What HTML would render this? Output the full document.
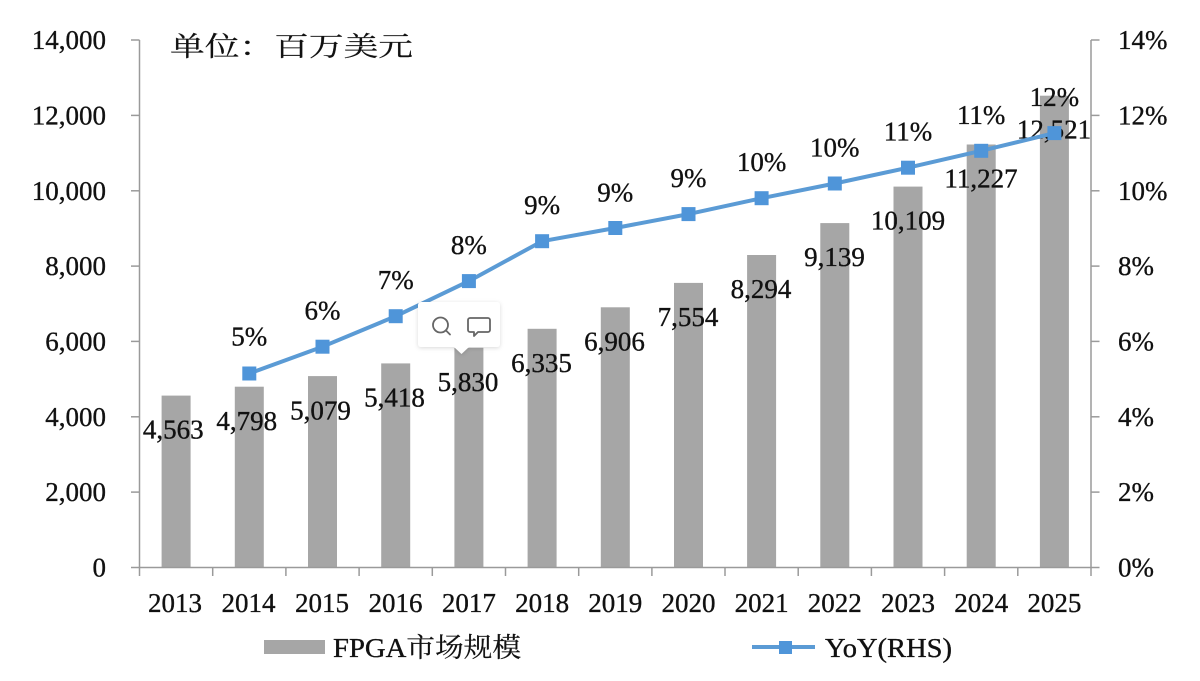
<!DOCTYPE html>
<html>
<head>
<meta charset="utf-8">
<style>
html,body{margin:0;padding:0;background:#fff;}
svg{display:block;}
text{font-family:"Liberation Serif","Noto Serif CJK SC",serif;fill:#111;font-size:27px;stroke:#111;stroke-width:0.35px;}
.cjk{font-family:"Noto Serif CJK SC","Noto Sans CJK SC",serif;stroke-width:0.2px;}
.big{font-size:29px;}
.pct{font-size:28px;}
.yr{font-size:27.5px;}
</style>
</head>
<body>
<svg width="1200" height="681" viewBox="0 0 1200 681" xmlns="http://www.w3.org/2000/svg">
<defs>
<filter id="sh" x="-20%" y="-20%" width="140%" height="150%">
<feDropShadow dx="0" dy="1" stdDeviation="2" flood-color="#000" flood-opacity="0.15"/>
</filter>
</defs>
<rect width="1200" height="681" fill="#fff"/>

<!-- title -->
<text x="170" y="56" class="cjk" font-size="30" textLength="243" lengthAdjust="spacingAndGlyphs">单位：百万美元</text>

<!-- bars -->
<g fill="#a6a6a6">
<rect x="161.6" y="395.6" width="29" height="171.9"/>
<rect x="234.8" y="386.7" width="29" height="180.8"/>
<rect x="308.0" y="376.1" width="29" height="191.4"/>
<rect x="381.2" y="363.4" width="29" height="204.1"/>
<rect x="454.4" y="347.8" width="29" height="219.7"/>
<rect x="527.6" y="328.8" width="29" height="238.7"/>
<rect x="600.8" y="307.3" width="29" height="260.2"/>
<rect x="674.0" y="282.9" width="29" height="284.6"/>
<rect x="747.1" y="255.0" width="29" height="312.5"/>
<rect x="820.3" y="223.1" width="29" height="344.4"/>
<rect x="893.5" y="186.6" width="29" height="380.9"/>
<rect x="966.7" y="144.5" width="29" height="423.0"/>
<rect x="1039.9" y="95.7" width="29" height="471.8"/>
</g>

<!-- axes -->
<g stroke="#9a9a9a" stroke-width="1.5" fill="none">
<line x1="139.5" y1="40" x2="139.5" y2="567.5"/>
<line x1="1091" y1="40" x2="1091" y2="567.5"/>
<line x1="131" y1="567.5" x2="1091" y2="567.5"/>
<line x1="131" y1="40" x2="139.5" y2="40"/>
<line x1="131" y1="115.4" x2="139.5" y2="115.4"/>
<line x1="131" y1="190.8" x2="139.5" y2="190.8"/>
<line x1="131" y1="266.1" x2="139.5" y2="266.1"/>
<line x1="131" y1="341.4" x2="139.5" y2="341.4"/>
<line x1="131" y1="416.8" x2="139.5" y2="416.8"/>
<line x1="131" y1="492.1" x2="139.5" y2="492.1"/>
<line x1="1091" y1="40" x2="1099.5" y2="40"/>
<line x1="1091" y1="115.4" x2="1099.5" y2="115.4"/>
<line x1="1091" y1="190.8" x2="1099.5" y2="190.8"/>
<line x1="1091" y1="266.1" x2="1099.5" y2="266.1"/>
<line x1="1091" y1="341.4" x2="1099.5" y2="341.4"/>
<line x1="1091" y1="416.8" x2="1099.5" y2="416.8"/>
<line x1="1091" y1="492.1" x2="1099.5" y2="492.1"/>
<line x1="1091" y1="567.5" x2="1099.5" y2="567.5"/>
<line x1="139.5" y1="567.5" x2="139.5" y2="576"/>
<line x1="212.7" y1="567.5" x2="212.7" y2="576"/>
<line x1="285.9" y1="567.5" x2="285.9" y2="576"/>
<line x1="359.1" y1="567.5" x2="359.1" y2="576"/>
<line x1="432.3" y1="567.5" x2="432.3" y2="576"/>
<line x1="505.5" y1="567.5" x2="505.5" y2="576"/>
<line x1="578.7" y1="567.5" x2="578.7" y2="576"/>
<line x1="651.9" y1="567.5" x2="651.9" y2="576"/>
<line x1="725.0" y1="567.5" x2="725.0" y2="576"/>
<line x1="798.2" y1="567.5" x2="798.2" y2="576"/>
<line x1="871.4" y1="567.5" x2="871.4" y2="576"/>
<line x1="944.6" y1="567.5" x2="944.6" y2="576"/>
<line x1="1017.8" y1="567.5" x2="1017.8" y2="576"/>
<line x1="1091" y1="567.5" x2="1091" y2="576"/>
</g>

<!-- left tick labels -->
<g text-anchor="end">
<text x="106" y="49">14,000</text>
<text x="106" y="124.4">12,000</text>
<text x="106" y="199.8">10,000</text>
<text x="106" y="275.1">8,000</text>
<text x="106" y="350.4">6,000</text>
<text x="106" y="425.8">4,000</text>
<text x="106" y="501.1">2,000</text>
<text x="106" y="576.5">0</text>
</g>

<!-- right tick labels -->
<g text-anchor="start">
<text x="1118" y="49">14%</text>
<text x="1118" y="124.4">12%</text>
<text x="1118" y="199.8">10%</text>
<text x="1118" y="275.1">8%</text>
<text x="1118" y="350.4">6%</text>
<text x="1118" y="425.8">4%</text>
<text x="1118" y="501.1">2%</text>
<text x="1118" y="576.5">0%</text>
</g>

<!-- year labels -->
<g text-anchor="middle" class="yr">
<text x="175" y="612">2013</text>
<text x="248.5" y="612">2014</text>
<text x="322" y="612">2015</text>
<text x="395.5" y="612">2016</text>
<text x="468.9" y="612">2017</text>
<text x="542.1" y="612">2018</text>
<text x="615.3" y="612">2019</text>
<text x="688.5" y="612">2020</text>
<text x="761.6" y="612">2021</text>
<text x="834.8" y="612">2022</text>
<text x="908.0" y="612">2023</text>
<text x="981.2" y="612">2024</text>
<text x="1054.4" y="612">2025</text>
</g>

<!-- bar value labels -->
<g text-anchor="middle" class="big">
<text x="173.3" y="438.5">4,563</text>
<text x="246.7" y="430">4,798</text>
<text x="320.5" y="419.3">5,079</text>
<text x="394.5" y="406.4">5,418</text>
<text x="468" y="390.8">5,830</text>
<text x="541.5" y="371.8">6,335</text>
<text x="614.5" y="350.3">6,906</text>
<text x="688" y="325.9">7,554</text>
<text x="761" y="298">8,294</text>
<text x="834.5" y="266.1">9,139</text>
<text x="908" y="229.6">10,109</text>
<text x="981" y="187.5">11,227</text>
<text x="1054" y="138.5">12,521</text>
</g>

<!-- line -->
<polyline fill="none" stroke="#5b9bd5" stroke-width="4" stroke-linejoin="round"
points="249.3,373.5 322.5,346.7 395.7,316.2 468.9,281.1 542.1,241.2 615.3,228.0 688.5,214.1 761.6,198.2 834.8,183.5 908.0,167.7 981.2,150.8 1054.4,133.1"/>
<g fill="#4f95d9">
<rect x="242.3" y="366.5" width="14" height="14"/>
<rect x="315.5" y="339.7" width="14" height="14"/>
<rect x="388.7" y="309.2" width="14" height="14"/>
<rect x="461.9" y="274.1" width="14" height="14"/>
<rect x="535.1" y="234.2" width="14" height="14"/>
<rect x="608.3" y="221.0" width="14" height="14"/>
<rect x="681.5" y="207.1" width="14" height="14"/>
<rect x="754.6" y="191.2" width="14" height="14"/>
<rect x="827.8" y="176.5" width="14" height="14"/>
<rect x="901.0" y="160.7" width="14" height="14"/>
<rect x="974.2" y="143.8" width="14" height="14"/>
<rect x="1047.4" y="126.1" width="14" height="14"/>
</g>

<!-- percent labels -->
<g text-anchor="middle" class="pct">
<text x="249.3" y="345.5">5%</text>
<text x="322.5" y="319.7">6%</text>
<text x="395.7" y="289.2">7%</text>
<text x="468.9" y="254.1">8%</text>
<text x="542.1" y="214.2">9%</text>
<text x="615.3" y="201.5">9%</text>
<text x="688.5" y="187.1">9%</text>
<text x="761.6" y="171.2">10%</text>
<text x="834.8" y="156.5">10%</text>
<text x="908.0" y="140.7">11%</text>
<text x="981.2" y="123.8">11%</text>
<text x="1054.4" y="106.1">12%</text>
</g>

<!-- tooltip overlay -->
<g filter="url(#sh)">
<rect x="418" y="302" width="82" height="45" rx="3" fill="#fff"/>
<polygon points="453,346 470,346 461.5,354" fill="#fff"/>
</g>
<g fill="none" stroke="#666" stroke-width="1.8" stroke-linecap="round" stroke-linejoin="round">
<circle cx="440.5" cy="325" r="7.5"/>
<line x1="446" y1="330.5" x2="450" y2="334.5"/>
<path d="M470,318 h18 a2,2 0 0 1 2,2 v10 a2,2 0 0 1 -2,2 h-10 l-4,4 v-4 h-4 a2,2 0 0 1 -2,-2 v-10 a2,2 0 0 1 2,-2 z"/>
</g>

<!-- legend -->
<rect x="264" y="640" width="61" height="14" fill="#a6a6a6"/>
<text x="333" y="657" textLength="188" lengthAdjust="spacingAndGlyphs">FPGA<tspan class="cjk">市场规模</tspan></text>
<line x1="752" y1="647" x2="815" y2="647" stroke="#5b9bd5" stroke-width="4"/>
<rect x="779" y="641" width="13" height="13" fill="#4f95d9"/>
<text x="825" y="657" textLength="127" lengthAdjust="spacingAndGlyphs">YoY(RHS)</text>
</svg>
</body>
</html>
